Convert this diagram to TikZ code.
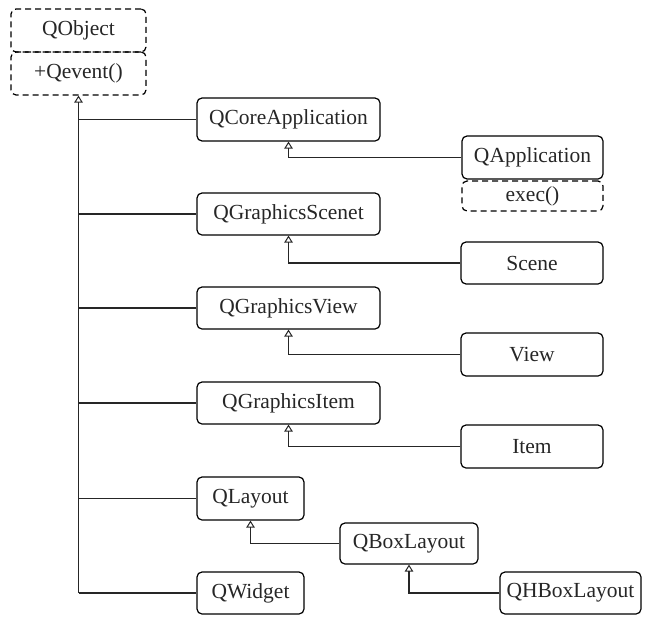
\documentclass[tikz,border=0pt]{standalone}
\usepackage{fontspec}
\setmainfont{Liberation Serif}
\usetikzlibrary{arrows.meta}

\begin{document}
\begin{tikzpicture}[x=1pt,y=-1pt,
  cls/.style={draw, line width=1.2pt, rounded corners=5pt, inner sep=0pt,
    font=\fontsize{21.5}{25}\selectfont, text=black!85},
  abstractcls/.style={cls, dash pattern=on 6pt off 4pt},
  link/.style={line width=1.2pt, draw=black!85},
  inh/.style={link, -{Triangle[open, length=7pt, width=8.5pt, line width=1pt]}},
]
% canvas
\useasboundingbox (0,0) rectangle (645,616);

% box helper: name, x1, y1, x2, y2, style, text
\newcommand{\umlbox}[7]{%
  \node[#6, minimum width={(#4-#2)*1pt}, minimum height={(#5-#3)*1pt}]
    (#1) at ({(#2+#4)/2},{(#3+#5)/2}) {#7};}

% base class
\umlbox{qobject}{11}{9}{146}{52}{abstractcls}{QObject}
\umlbox{qevent}{11}{52}{146}{95}{abstractcls}{+Qevent()}

% first-level subclasses
\umlbox{qcore}{197}{98}{380}{141}{cls}{QCoreApplication}
\umlbox{qscene}{197}{193}{380}{235}{cls}{QGraphicsScenet}
\umlbox{qview}{197}{287}{380}{329}{cls}{QGraphicsView}
\umlbox{qitem}{197}{382}{380}{424}{cls}{QGraphicsItem}
\umlbox{qlayout}{197}{477}{304}{520}{cls}{QLayout}
\umlbox{qwidget}{197}{572}{304}{614}{cls}{QWidget}

% derived classes
\umlbox{qapp}{462}{136}{603}{179}{cls}{QApplication}
\umlbox{exec}{462}{181}{603}{211}{abstractcls}{exec()}
\umlbox{scene}{461}{242}{603}{284}{cls}{Scene}
\umlbox{view}{461}{333}{603}{376}{cls}{View}
\umlbox{item}{461}{425}{603}{468}{cls}{Item}
\umlbox{qbox}{340}{523}{478}{564}{cls}{QBoxLayout}
\umlbox{qhbox}{500}{572}{641}{614}{cls}{QHBoxLayout}

% trunk from QObject down to QWidget level
\coordinate (trunkend) at (qwidget.west -| qevent.south);
\draw[inh] (trunkend) -- (qevent.south);
\foreach \c in {qcore,qscene,qview,qitem,qlayout,qwidget}
  \draw[link] (\c.west -| qevent.south) -- (\c.west);

% inheritance of the derived classes
\draw[inh] (qapp.west) -| (qcore.south);
\draw[inh] (scene.west) -| (qscene.south);
\draw[inh] (view.west) -| (qview.south);
\draw[inh] (item.west) -| (qitem.south);
\draw[inh] (qbox.west) -| (qlayout.south);
\draw[inh] (qhbox.west) -| (qbox.south);
\end{tikzpicture}
\end{document}
